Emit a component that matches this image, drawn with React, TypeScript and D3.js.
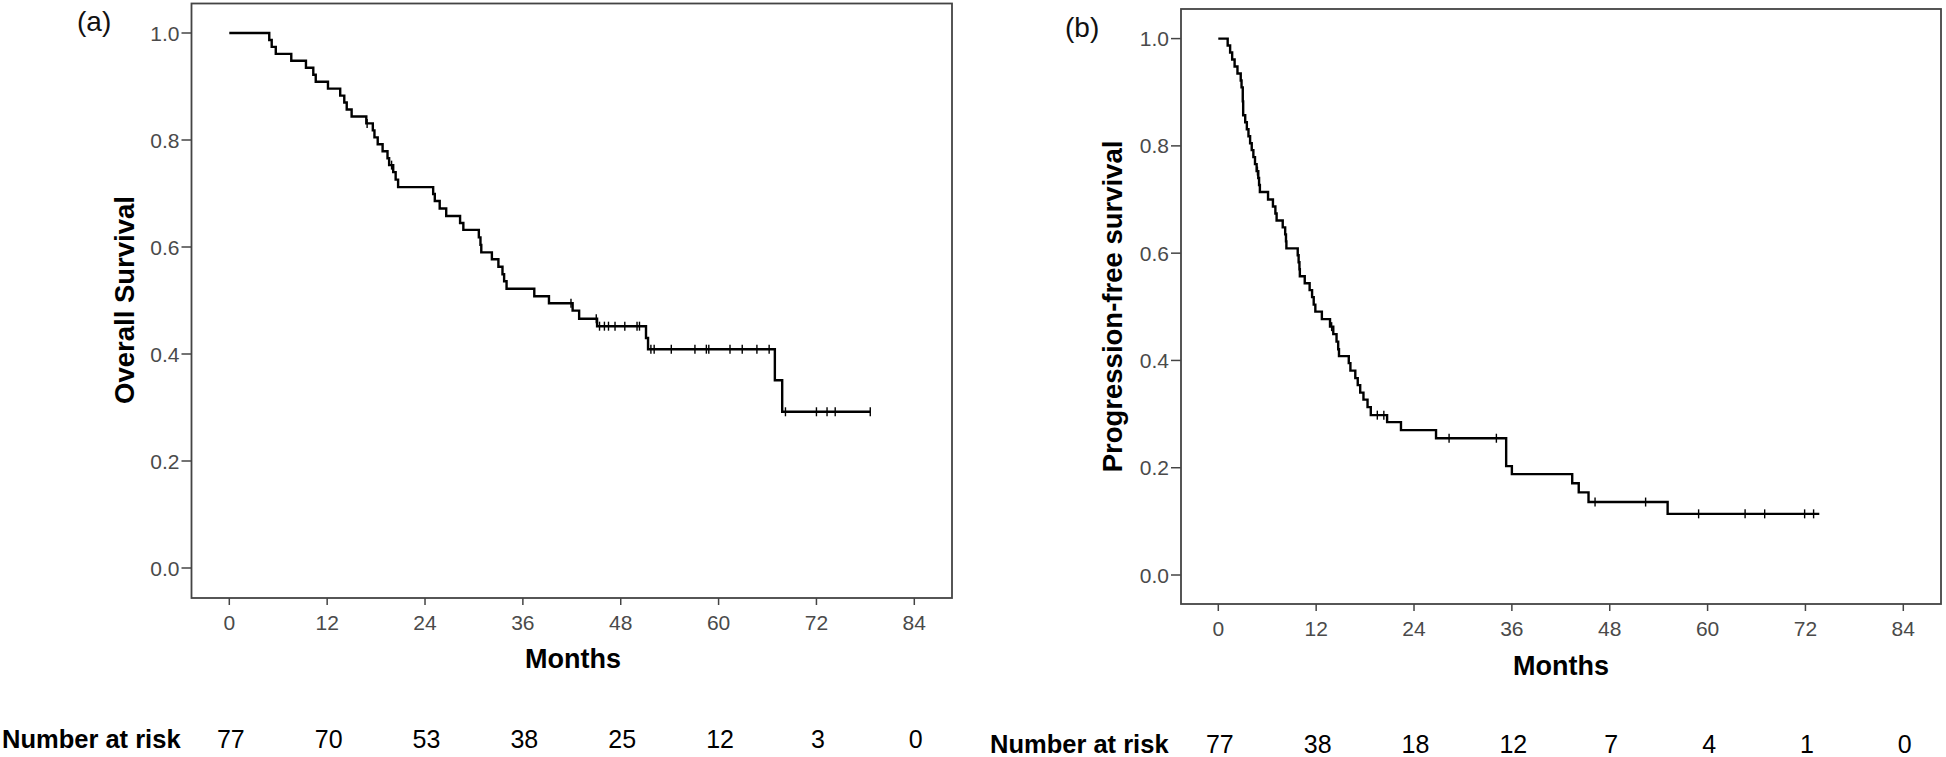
import React from "react";
import * as d3 from "d3";

// ---------- DATA ----------
const X_TICKS = [0, 12, 24, 36, 48, 60, 72, 84];
const Y_TICKS = [0, 0.2, 0.4, 0.6, 0.8, 1.0];

// Panel (a) Overall survival: step times (months) and survival after each step
const OS_TIMES = [4.9, 5.2, 5.7, 7.6, 9.4, 10.3, 10.6, 12.1, 13.6, 14.1, 14.4, 15.0, 16.8, 17.6, 17.8, 18.2, 18.8, 19.4, 19.6, 20.1, 20.4, 20.7, 25.0, 25.2, 25.8, 26.6, 28.3, 28.7, 30.6, 30.8, 30.9, 32.2, 33.0, 33.5, 33.7, 34.0, 37.4, 39.2, 42.1, 42.9, 45.1, 51.1, 51.35, 66.9, 67.8];
const OS_SURV = [0.987, 0.974, 0.961, 0.948, 0.935, 0.922, 0.909, 0.896, 0.883, 0.870, 0.857, 0.844, 0.831, 0.818, 0.805, 0.792, 0.779, 0.766, 0.753, 0.740, 0.726, 0.712, 0.699, 0.686, 0.672, 0.658, 0.645, 0.632, 0.618, 0.604, 0.590, 0.577, 0.563, 0.549, 0.536, 0.522, 0.508, 0.495, 0.481, 0.466, 0.452, 0.430, 0.409, 0.351, 0.292];
const OS_CENSOR = [16.9, 19.9, 41.9, 45.0, 45.4, 46.0, 46.5, 47.3, 48.5, 50.0, 50.3, 51.7, 52.1, 54.2, 57.1, 58.5, 58.8, 61.4, 62.9, 64.7, 66.2, 68.2, 72.0, 73.3, 74.3, 78.6];
const OS_END = 78.6;
const OS_RISK = [77, 70, 53, 38, 25, 12, 3, 0];

// Panel (b) Progression-free survival
const PFS_TIMES = [1.15, 1.45, 1.7, 2.0, 2.35, 2.75, 2.85, 3.0, 3.05, 3.3, 3.5, 3.7, 3.9, 4.1, 4.3, 4.5, 4.7, 4.9, 5.0, 5.1, 6.1, 6.7, 7.0, 7.15, 7.9, 8.2, 8.3, 8.35, 9.74, 9.85, 9.95, 10.0, 10.6, 11.2, 11.5, 11.7, 11.9, 12.7, 13.7, 14.1, 14.5, 14.7, 14.8, 16.0, 16.2, 16.8, 17.1, 17.4, 17.8, 18.3, 18.7, 20.7, 22.4, 26.7, 35.3, 36.0, 43.4, 44.2, 45.4, 55.1];
const PFS_SURV = [0.987, 0.974, 0.961, 0.948, 0.935, 0.922, 0.909, 0.883, 0.857, 0.844, 0.831, 0.818, 0.805, 0.792, 0.779, 0.766, 0.753, 0.740, 0.727, 0.714, 0.700, 0.687, 0.674, 0.661, 0.648, 0.635, 0.622, 0.609, 0.596, 0.583, 0.570, 0.557, 0.544, 0.531, 0.518, 0.504, 0.491, 0.477, 0.463, 0.449, 0.435, 0.421, 0.408, 0.395, 0.381, 0.367, 0.354, 0.340, 0.327, 0.313, 0.298, 0.285, 0.270, 0.255, 0.203, 0.188, 0.171, 0.154, 0.136, 0.114];
const PFS_CENSOR = [4.8, 13.9, 19.5, 20.3, 28.3, 34.1, 46.2, 52.4, 58.9, 64.6, 67.0, 71.9, 73.0];
const PFS_END = 73.7;
const PFS_RISK = [77, 38, 18, 12, 7, 4, 1, 0];

// ---------- HELPERS ----------
function survAt(times: number[], surv: number[], t: number) {
  let s = 1;
  for (let i = 0; i < times.length; i++) {
    if (times[i] <= t) s = surv[i];
  }
  return s;
}

type PanelProps = {
  label: string;
  yTitle: string;
  times: number[];
  surv: number[];
  censor: number[];
  end: number;
  risk: number[];
  frame: { left: number; right: number; top: number; bottom: number };
  xRange: [number, number];
  yRange: [number, number];
  labelPos: [number, number];
  yTitlePos: [number, number];
  tickBase: number;
  monthsPos: [number, number];
  riskBase: number;
  riskLabelX: number;
};

const FONT = "'Liberation Sans', Arial, sans-serif";
const AXIS_COLOR = "#444";
const TICK_TEXT = "#4a4a4a";

function Panel(p: PanelProps) {
  const x = d3.scaleLinear().domain([0, 84]).range(p.xRange);
  const y = d3.scaleLinear().domain([0, 1]).range(p.yRange);

  const pts: [number, number][] = [[0, 1]];
  p.times.forEach((t, i) => pts.push([t, p.surv[i]]));
  pts.push([p.end, p.surv[p.surv.length - 1]]);

  const line = d3
    .line<[number, number]>()
    .x((d) => x(d[0]))
    .y((d) => y(d[1]))
    .curve(d3.curveStepAfter);

  const f = p.frame;
  return (
    <g>
      <text x={p.labelPos[0]} y={p.labelPos[1]} fontFamily={FONT} fontSize={28} fill="#111">
        {p.label}
      </text>
      <rect
        x={f.left}
        y={f.top}
        width={f.right - f.left}
        height={f.bottom - f.top}
        fill="none"
        stroke={AXIS_COLOR}
        strokeWidth={1.8}
      />
      {Y_TICKS.map((v) => (
        <g key={"y" + v}>
          <line x1={f.left - 10} x2={f.left} y1={y(v)} y2={y(v)} stroke={AXIS_COLOR} strokeWidth={1.5} />
          <text
            x={f.left - 12}
            y={y(v) + 7.5}
            textAnchor="end"
            fontFamily={FONT}
            fontSize={21}
            fill={TICK_TEXT}
          >
            {v.toFixed(1)}
          </text>
        </g>
      ))}
      {X_TICKS.map((v) => (
        <g key={"x" + v}>
          <line x1={x(v)} x2={x(v)} y1={f.bottom} y2={f.bottom + 7} stroke={AXIS_COLOR} strokeWidth={1.5} />
          <text
            x={x(v)}
            y={p.tickBase}
            textAnchor="middle"
            fontFamily={FONT}
            fontSize={21}
            fill={TICK_TEXT}
          >
            {v}
          </text>
        </g>
      ))}
      <path d={line(pts) || ""} fill="none" stroke="#000" strokeWidth={2.4} />
      {p.censor.map((t, i) => {
        const cx = x(t);
        const cy = y(survAt(p.times, p.surv, t));
        return <line key={"c" + i} x1={cx} x2={cx} y1={cy - 4.5} y2={cy + 4.5} stroke="#000" strokeWidth={1.4} />;
      })}
      <text
        transform={`translate(${p.yTitlePos[0]},${p.yTitlePos[1]}) rotate(-90)`}
        textAnchor="middle"
        fontFamily={FONT}
        fontWeight="bold"
        fontSize={27.5}
        fill="#000"
      >
        {p.yTitle}
      </text>
      <text
        x={p.monthsPos[0]}
        y={p.monthsPos[1]}
        textAnchor="middle"
        fontFamily={FONT}
        fontWeight="bold"
        fontSize={27}
        fill="#000"
      >
        Months
      </text>
      <text x={p.riskLabelX} y={p.riskBase} fontFamily={FONT} fontWeight="bold" fontSize={25.5} fill="#000">
        Number at risk
      </text>
      {p.risk.map((r, i) => (
        <text
          key={"r" + i}
          x={x(X_TICKS[i]) + 1.5}
          y={p.riskBase}
          textAnchor="middle"
          fontFamily={FONT}
          fontSize={25}
          fill="#000"
        >
          {r}
        </text>
      ))}
    </g>
  );
}

export default function App() {
  return (
    <svg
      width={1946}
      height={757}
      style={{ position: "absolute", left: 0, top: 0, background: "#fff" }}
    >
      <rect x={0} y={0} width={1946} height={757} fill="#fff" />
      <Panel
        label="(a)"
        yTitle="Overall Survival"
        times={OS_TIMES}
        surv={OS_SURV}
        censor={OS_CENSOR}
        end={OS_END}
        risk={OS_RISK}
        frame={{ left: 191.5, right: 952, top: 3.5, bottom: 598 }}
        xRange={[229.3, 914.3]}
        yRange={[568, 33]}
        labelPos={[77, 31]}
        yTitlePos={[134, 300]}
        tickBase={630}
        monthsPos={[573, 668]}
        riskBase={748}
        riskLabelX={2}
      />
      <Panel
        label="(b)"
        yTitle="Progression-free survival"
        times={PFS_TIMES}
        surv={PFS_SURV}
        censor={PFS_CENSOR}
        end={PFS_END}
        risk={PFS_RISK}
        frame={{ left: 1181, right: 1941, top: 9, bottom: 604 }}
        xRange={[1218.3, 1903.3]}
        yRange={[575, 38.6]}
        labelPos={[1065, 37]}
        yTitlePos={[1122, 306.5]}
        tickBase={636}
        monthsPos={[1561, 675]}
        riskBase={753}
        riskLabelX={990}
      />
    </svg>
  );
}
